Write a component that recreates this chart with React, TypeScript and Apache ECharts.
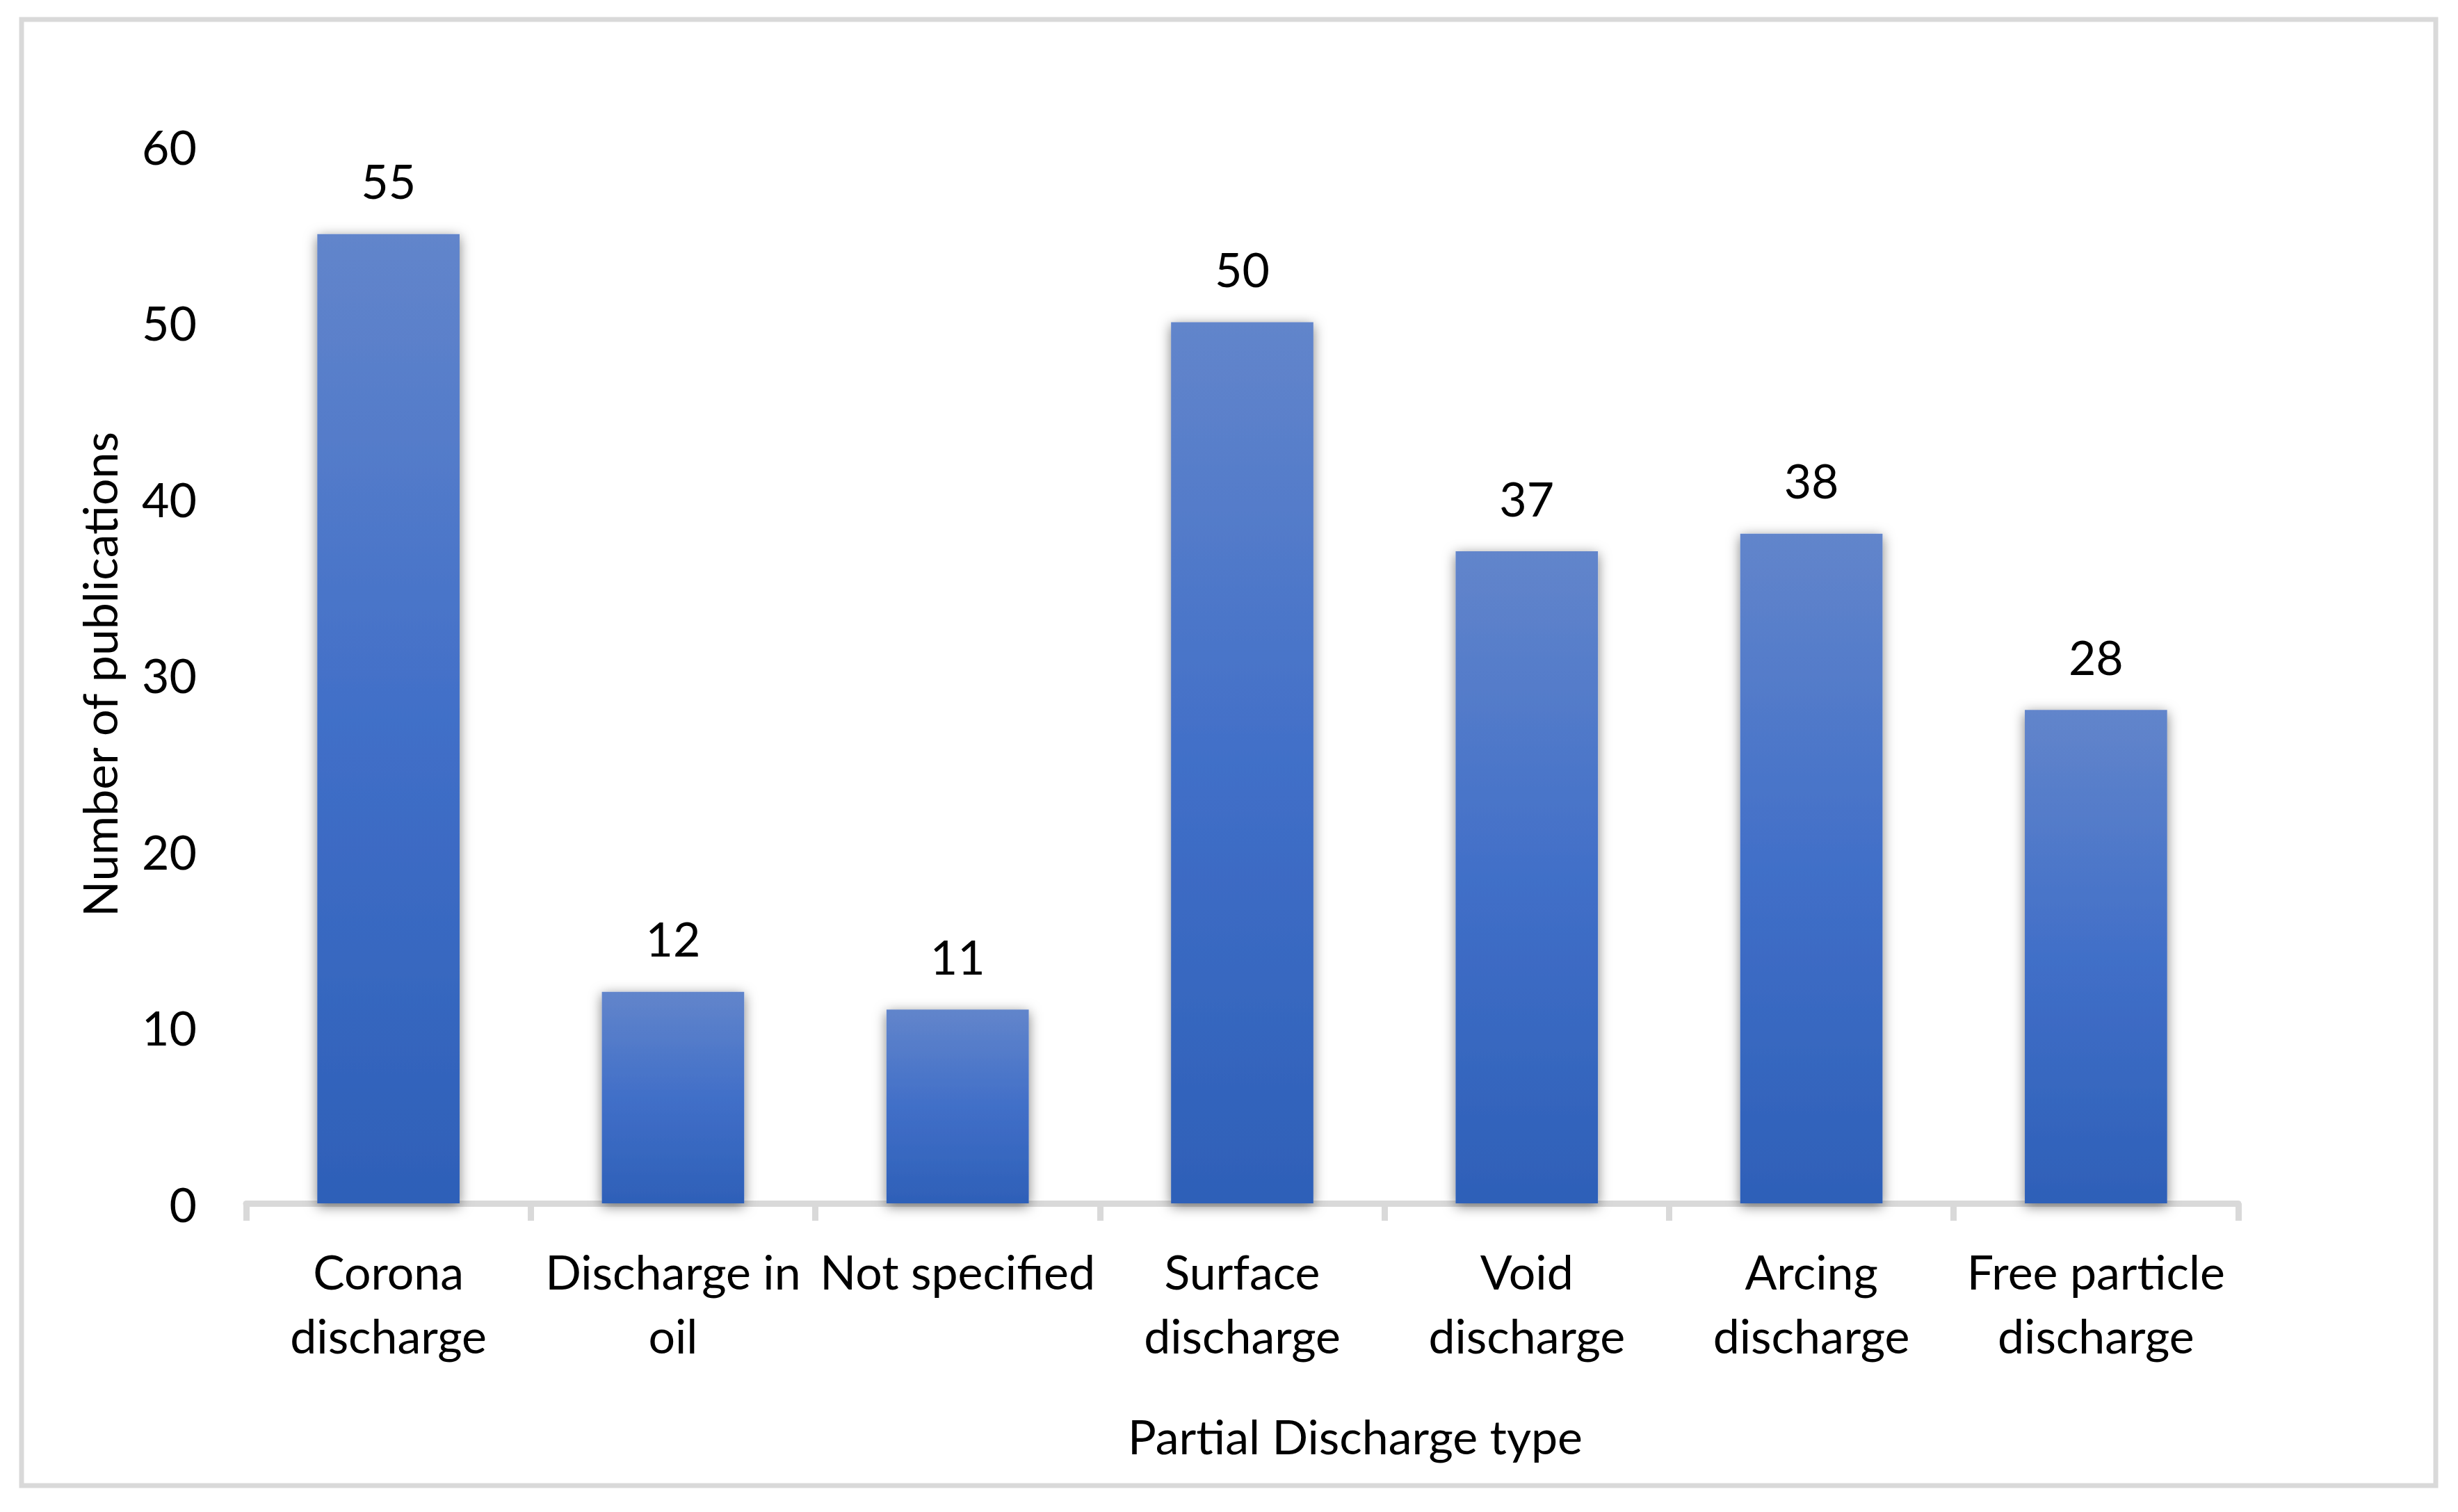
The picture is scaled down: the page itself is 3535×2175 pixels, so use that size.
import React, { useEffect, useRef } from "react";
import * as echarts from "echarts";

const categories: string[] = [
  "Corona\ndischarge",
  "Discharge in\noil",
  "Not specified",
  "Surface\ndischarge",
  "Void\ndischarge",
  "Arcing\ndischarge",
  "Free particle\ndischarge",
];
const publications: number[] = [55, 12, 11, 50, 37, 38, 28];
const yAxisTitle = "Number of publications";
const xAxisTitle = "Partial Discharge type";
const yMin = 0;
const yMax = 60;
const yStep = 10;

const FONT = "Lato";
const FS = 68;

export default function App() {
  const ref = useRef<HTMLDivElement>(null);
  useEffect(() => {
    if (!ref.current) return;
    const chart = echarts.init(ref.current, undefined, { renderer: "svg" });
    chart.setOption({
      animation: false,
      backgroundColor: "#ffffff",
      textStyle: { fontFamily: FONT, color: "#000" },
      grid: { left: 354, right: 316, top: 210, bottom: 444, containLabel: false },
      xAxis: {
        type: "category",
        data: categories,
        axisLine: { show: true, lineStyle: { color: "#d9d9d9", width: 9 } },
        axisTick: { show: true, length: 25, alignWithLabel: false, lineStyle: { color: "#d9d9d9", width: 9 } },
        axisLabel: {
          interval: 0,
          margin: 51,
          fontSize: FS,
          lineHeight: 92,
          color: "#000",
          fontFamily: FONT,
        },
        splitLine: { show: false },
      },
      yAxis: {
        type: "value",
        min: yMin,
        max: yMax,
        interval: yStep,
        axisLine: { show: false },
        axisTick: { show: false },
        splitLine: { show: false },
        axisLabel: { margin: 71, fontSize: FS, color: "#000", fontFamily: FONT },
      },
      series: [
        {
          type: "bar",
          data: publications,
          barWidth: "50%",
          itemStyle: {
            color: new echarts.graphic.LinearGradient(0, 0, 0, 1, [
              { offset: 0, color: "#6285cb" },
              { offset: 0.5, color: "#416fc8" },
              { offset: 1, color: "#2e60b8" },
            ]),
            shadowBlur: 18,
            shadowColor: "rgba(0,0,0,0.5)",
            shadowOffsetX: 0,
            shadowOffsetY: 4,
          },
          label: {
            show: true,
            position: "top",
            distance: 43,
            fontSize: FS,
            color: "#000",
            fontFamily: FONT,
          },
        },
      ],
      graphic: [
        {
          type: "rect",
          shape: { x: 31, y: 28, width: 3472, height: 2109 },
          style: { fill: "none", stroke: "#d9d9d9", lineWidth: 7 },
          silent: true,
        },
        {
          type: "text",
          x: 1949,
          y: 2065,
          style: {
            text: xAxisTitle,
            fontSize: FS,
            fontFamily: FONT,
            fill: "#000",
            align: "center",
            verticalAlign: "middle",
          },
        },
        {
          type: "text",
          x: 142,
          y: 970,
          rotation: Math.PI / 2,
          style: {
            text: yAxisTitle,
            fontSize: FS,
            fontFamily: FONT,
            fill: "#000",
            align: "center",
            verticalAlign: "middle",
          },
        },
      ],
    });
    return () => chart.dispose();
  }, []);
  return (
    <div
      ref={ref}
      style={{ position: "fixed", left: 0, top: 0, width: 3535, height: 2175 }}
    />
  );
}
